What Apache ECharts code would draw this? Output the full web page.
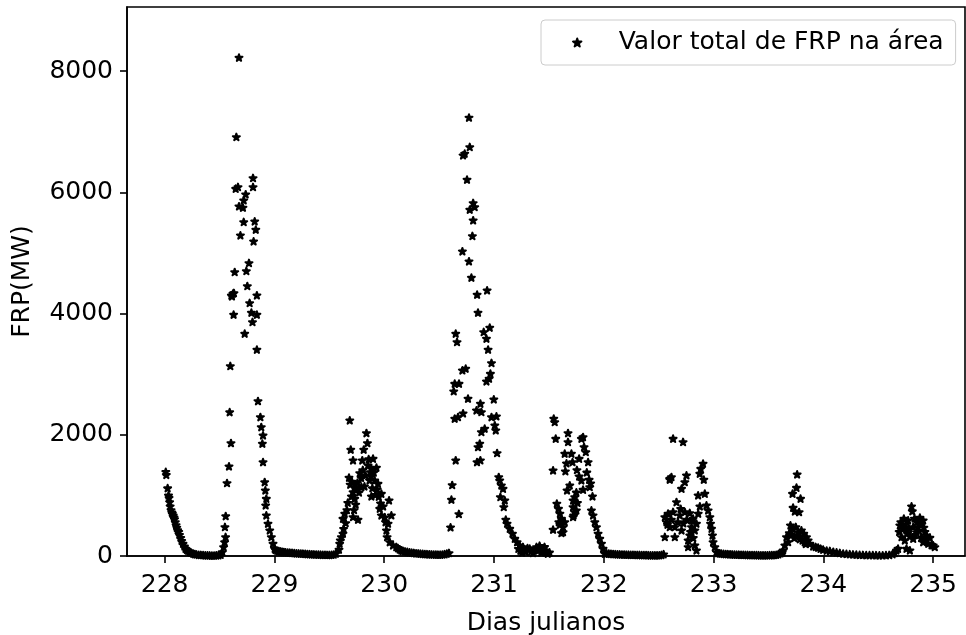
<!DOCTYPE html>
<html>
<head>
<meta charset="utf-8">
<script src="https://cdn.jsdelivr.net/npm/echarts@6.0.0/dist/echarts.min.js"></script>
<style>
  html, body { margin: 0; padding: 0; background: #ffffff; }
  #chart { width: 966px; height: 635px; }
</style>
</head>
<body>
<div id="chart"></div>
<script>
// Tick positions
const xTicks = [228, 229, 230, 231, 232, 233, 234, 235];
const yTicks = [0, 2000, 4000, 6000, 8000];

// [dia juliano, FRP (MW)] grouped by fire cycle
const dia228 = [
  [228.010,1390],[228.015,1340],[228.027,1120],[228.035,1000],[228.040,960],[228.045,890],[228.050,820],
  [228.058,760],[228.065,720],[228.070,700],[228.078,670],[228.085,640],[228.090,610],[228.097,560],
  [228.104,510],[228.110,470],[228.118,430],[228.128,400],[228.135,350],[228.146,300],[228.155,250],
  [228.167,204],[228.180,160],[228.190,122],[228.203,100],[228.215,87],[228.230,70],[228.243,54],
  [228.260,40],[228.275,32],[228.290,26],[228.310,20],[228.330,17],[228.350,14],[228.370,12],
  [228.390,10],[228.410,9],[228.430,8],[228.450,8],[228.470,10],[228.490,14],[228.510,22]
];

const dia228Pico = [
  [228.525,66],[228.537,149],[228.546,231],[228.555,314],[228.549,479],[228.556,660],[228.568,1205],
  [228.586,1480],[228.592,2375],[228.604,1865],[228.598,3136],[228.613,4286],[228.608,4303],[228.622,4331],
  [228.628,3984],[228.631,4341],[228.638,4687],[228.647,6063],[228.653,6916],[228.668,6090],[228.677,8226],
  [228.677,5772],[228.690,5293],[228.713,5750],[228.720,5871],[228.720,5513],[228.729,3671],[228.738,5970],
  [228.744,4704],[228.753,4456],[228.768,4836],[228.774,4176],[228.790,4017],[228.800,3862],[228.805,6239],
  [228.805,6090],[228.810,5194],[228.820,5524],[228.830,5387],[228.840,4303],[228.840,3984],[228.840,3407],
  [228.850,2558],[228.872,2294],[228.880,2129],[228.896,1992],[228.890,1855],[228.896,1551],[228.911,1221],
  [228.917,1084],[228.926,947],[228.920,837],[228.926,672],[228.941,535],[228.957,424],[228.972,314],
  [228.987,205],[229.002,122],
  [229.010,100],[229.025,88],[229.040,80],[229.055,75],[229.070,70],[229.085,66],[229.100,62],[229.120,58],
  [229.140,55],[229.160,52],[229.180,48],[229.200,45],[229.220,42],[229.240,40],[229.260,38],[229.280,35],
  [229.300,33],[229.320,30],[229.340,28],[229.360,26],[229.380,25],[229.400,24],[229.420,22],[229.440,20],
  [229.460,20],[229.480,18],[229.500,18],[229.520,20],[229.540,25],[229.560,40]
];

const dia229 = [
  [229.588,106],[229.594,205],[229.600,260],[229.610,314],[229.624,370],[229.624,617],[229.630,450],
  [229.640,700],[229.649,545],[229.660,760],[229.668,880],[229.679,1294],[229.686,2240],[229.690,1180],
  [229.695,1756],[229.701,985],[229.705,1230],[229.716,1580],[229.716,1056],[229.716,644],[229.725,760],
  [229.730,1180],[229.731,947],[229.740,850],[229.747,1112],[229.756,1210],[229.761,601],[229.770,1050],
  [229.777,1370],[229.790,1290],[229.792,1139],[229.800,1580],[229.805,1420],[229.813,1756],[229.820,1150],
  [229.830,1330],[229.838,2030],[229.847,1865],[229.852,1497],[229.858,1600],[229.866,1250],[229.874,1386],
  [229.883,1442],[229.883,1315],[229.883,985],[229.892,1120],[229.898,1607],[229.905,1380],[229.913,1249],
  [229.920,1010],[229.929,1459],[229.936,1100],[229.943,1194],[229.950,980],[229.959,782],[229.966,870],
  [229.974,1029],[229.974,672],[229.990,820],[230.005,640],[230.012,560],[230.020,424],[230.026,314],
  [230.035,535],[230.044,919],[230.050,231],[230.065,672],[230.080,177],[230.110,149],
  [230.125,130],[230.140,110],[230.155,95],[230.170,85],[230.190,75],[230.210,68],[230.230,60],[230.250,55],
  [230.270,50],[230.290,45],[230.310,42],[230.330,38],[230.350,35],[230.370,32],[230.390,30],[230.410,28],
  [230.430,26],[230.450,25],[230.470,24],[230.490,22],[230.510,22],[230.530,25],[230.550,30],[230.570,40]
];

const dia230 = [
  [230.590,50],[230.604,474],[230.612,931],[230.619,1172],[230.633,2720],[230.642,2268],[230.642,2845],
  [230.651,1580],[230.651,3671],[230.663,3532],[230.672,2294],[230.680,694],[230.681,2845],[230.712,3065],
  [230.712,5029],[230.718,2355],[230.718,6613],[230.733,6641],[230.742,3093],[230.754,6212],[230.763,2598],
  [230.772,7236],[230.772,4864],[230.779,6750],[230.779,5717],[230.794,4595],[230.803,5282],[230.810,5826],
  [230.810,5541],[230.824,5760],[230.840,2405],[230.845,1551],[230.846,4314],[230.854,4017],[230.854,1799],
  [230.870,1855],[230.876,2515],[230.876,1580],[230.885,2377],[230.885,2047],[230.906,3697],[230.915,2103],
  [230.931,3588],[230.931,2883],[230.937,4385],[230.946,3407],[230.955,2928],[230.961,3770],[230.967,3010],
  [230.977,3186],[230.977,2294],[230.998,2586],[231.007,2157],[231.016,2075],[231.022,2306],[231.028,1700],
  [231.043,1304],[231.052,1249],[231.058,974],[231.067,1167],[231.082,1112],[231.089,809],[231.098,919],
  [231.107,601],[231.119,535],[231.143,452],[231.168,370],[231.189,287],[231.210,231],[231.234,177],
  [231.264,149],
  [231.222,120],[231.240,90],[231.255,60],[231.275,110],[231.290,70],[231.305,130],[231.325,122],
  [231.340,80],[231.355,50],[231.370,100],[231.387,149],[231.400,90],[231.415,170],[231.430,60],
  [231.447,122],[231.460,150],[231.470,90],[231.478,66],[231.490,40],[231.505,60]
];

const dia231 = [
  [231.538,1414],[231.538,436],[231.544,2268],[231.553,2212],[231.562,1937],[231.572,865],[231.587,782],
  [231.590,560],[231.600,700],[231.600,520],[231.614,617],[231.614,380],[231.629,479],[231.629,396],
  [231.644,561],[231.644,1690],[231.650,1400],[231.660,1530],[231.665,1084],[231.674,2030],[231.674,1882],
  [231.690,1167],[231.705,1690],[231.715,1551],[231.720,809],[231.720,644],[231.720,919],[231.725,672],
  [231.735,974],[231.735,726],[231.750,1050],[231.750,754],[231.755,1420],[231.760,880],[231.775,1607],
  [231.775,1315],[231.796,1937],[231.796,1249],[231.811,1964],[231.811,1095],[231.820,1800],[231.836,1717],
  [231.845,1380],[231.857,1551],[231.866,1260],[231.872,1139],[231.880,1200],[231.887,754],[231.897,985],
  [231.902,672],[231.918,561],[231.933,479],[231.948,370],[231.963,287],[231.979,205],[231.993,122],
  [232.009,40],
  [232.025,45],[232.045,40],[232.065,36],[232.085,33],[232.105,30],[232.125,28],[232.145,26],[232.165,25],
  [232.185,24],[232.205,22],[232.225,21],[232.245,20],[232.265,19],[232.285,18],[232.305,18],[232.325,17],
  [232.345,16],[232.365,15],[232.385,14],[232.405,13],[232.425,12],[232.445,12],[232.465,11],[232.485,11],
  [232.505,12],[232.525,18],[232.545,30]
];

const dia232 = [
  [232.556,644],[232.556,314],[232.571,561],[232.585,700],[232.601,1277],[232.601,1261],[232.601,479],
  [232.616,1304],[232.631,1937],[232.631,727],[232.647,479],[232.647,314],[232.662,891],[232.692,672],
  [232.708,1112],[232.708,424],[232.722,1882],[232.738,1221],[232.738,727],[232.753,1332],[232.768,259],
  [232.768,149],[232.783,710],[232.783,342],[232.799,479],[232.799,589],[232.813,617],[232.829,424],
  [232.829,177],[232.844,535],[232.844,94],[232.859,1002],[232.874,1360],[232.883,1442],[232.904,1525],
  [232.911,1261],[232.920,1029],[232.935,837],[232.950,754],[232.966,644],[232.972,535],[232.981,452],
  [232.990,342],[232.995,231],[233.011,149],[233.026,66],
  [232.580,520],[232.615,600],[232.675,560],[232.700,780],[232.725,540],[232.755,600],[232.790,400],
  [232.815,300],[232.860,700],[232.875,820],
  [233.040,50],[233.055,45],[233.070,40],[233.090,36],[233.110,33],[233.130,30],[233.150,28],[233.170,26],
  [233.190,24],[233.210,22],[233.230,21],[233.250,20],[233.270,19],[233.290,18],[233.310,17],[233.330,16],
  [233.350,15],[233.370,14],[233.390,14],[233.410,13],[233.430,12],[233.450,12],[233.470,12],[233.490,12],
  [233.510,13],[233.530,14],[233.550,16],[233.570,20],[233.590,30],[233.610,45]
];

const dia233 = [
  [233.625,60],[233.633,94],[233.649,177],[233.664,314],[233.679,231],[233.690,380],[233.700,507],
  [233.710,350],[233.719,1029],[233.719,452],[233.724,798],[233.735,300],[233.740,737],[233.749,479],
  [233.755,1128],[233.760,330],[233.761,1348],[233.770,396],[233.779,726],[233.785,280],[233.792,947],
  [233.800,424],[233.810,260],[233.821,370],[233.830,231],[233.840,200],[233.846,314],[233.861,259],
  [233.876,205],[233.907,160],[233.930,150],[233.952,139],[233.975,120],[233.998,105],[234.030,90],
  [234.059,83],[234.090,70],[234.120,60],[234.150,50],[234.180,40],
  [234.210,35],[234.240,30],[234.270,26],[234.300,23],[234.330,20],[234.360,18],[234.390,16],[234.420,15],
  [234.450,14],[234.480,13],[234.510,12],[234.540,12],[234.570,14],[234.600,18],[234.630,30],[234.650,50]
];

const dia234 = [
  [234.666,94],[234.680,122],[234.696,507],[234.705,560],[234.712,314],[234.720,500],[234.726,452],
  [234.733,617],[234.742,259],[234.757,424],[234.757,122],[234.765,380],[234.772,589],[234.788,325],
  [234.788,94],[234.803,820],[234.810,740],[234.818,479],[234.818,287],[234.830,620],[234.848,396],
  [234.850,560],[234.860,470],[234.870,420],[234.879,634],[234.894,535],[234.909,589],[234.909,231],
  [234.925,400],[234.930,280],[234.940,342],[234.955,205],[234.970,303],[234.985,180],[235.000,177],
  [235.015,149],[234.690,400],[234.750,520],[234.780,450],[234.835,350],[234.890,300],[234.915,470]
];

const serieFRP = [].concat(dia228, dia228Pico, dia229, dia230, dia231, dia232, dia233, dia234);

// five-pointed star (inner radius 0.382 of outer)
const estrela = 'path://M0,-1L0.2245,-0.309L0.951,-0.309L0.363,0.118L0.588,0.809L0,0.382L-0.588,0.809L-0.363,0.118L-0.951,-0.309L-0.2245,-0.309Z';

const fonte = 'DejaVu Sans';
const tamFonte = 25;

const chart = echarts.init(document.getElementById('chart'), null, { renderer: 'canvas' });
chart.setOption({
  animation: false,
  backgroundColor: '#ffffff',
  textStyle: { fontFamily: fonte, color: '#000' },
  grid: {
    left: 127, right: 1, top: 7, bottom: 79,
    outerBoundsMode: 'none', containLabel: false,
    show: true, borderColor: '#000', borderWidth: 1.6, backgroundColor: 'transparent'
  },
  legend: {
    left: 541, top: 20,
    padding: [8, 12, 8, 31],
    itemWidth: 73, itemHeight: 8,
    backgroundColor: 'rgba(255,255,255,0.8)',
    borderColor: '#cccccc', borderWidth: 1, borderRadius: 4,
    textStyle: { fontFamily: fonte, fontSize: tamFonte, color: '#000', lineHeight: 29 },
    data: ['Valor total de FRP na área']
  },
  xAxis: {
    type: 'value',
    min: 227.657, max: 235.29,
    name: 'Dias julianos',
    nameLocation: 'middle', nameGap: 55,
    nameTextStyle: { fontFamily: fonte, fontSize: tamFonte, color: '#000' },
    axisLine: { show: true, onZero: false, lineStyle: { color: '#000', width: 1.6 } },
    axisTick: { show: true, length: 7, lineStyle: { color: '#000', width: 1.6 }, customValues: xTicks },
    axisLabel: { fontFamily: fonte, fontSize: tamFonte, color: '#000', margin: 17, customValues: xTicks,
      formatter: v => String(Math.round(v)) },
    splitLine: { show: false }
  },
  yAxis: {
    type: 'value',
    min: 0, max: 9060,
    name: 'FRP(MW)',
    nameLocation: 'middle', nameGap: 92,
    nameRotate: 90,
    nameTextStyle: { fontFamily: fonte, fontSize: tamFonte, color: '#000' },
    axisLine: { show: true, onZero: false, lineStyle: { color: '#000', width: 1.6 } },
    axisTick: { show: true, length: 7, lineStyle: { color: '#000', width: 1.6 }, customValues: yTicks },
    axisLabel: { fontFamily: fonte, fontSize: tamFonte, color: '#000', margin: 14, customValues: yTicks,
      formatter: v => String(Math.round(v)) },
    splitLine: { show: false }
  },
  series: [{
    name: 'Valor total de FRP na área',
    type: 'scatter',
    data: serieFRP,
    symbol: estrela,
    symbolSize: 7,
    symbolKeepAspect: true,
    itemStyle: { color: '#000', borderColor: '#000', borderWidth: 2, borderJoin: 'round', opacity: 1 },
    emphasis: { disabled: true }
  }]
});
</script>
</body>
</html>
